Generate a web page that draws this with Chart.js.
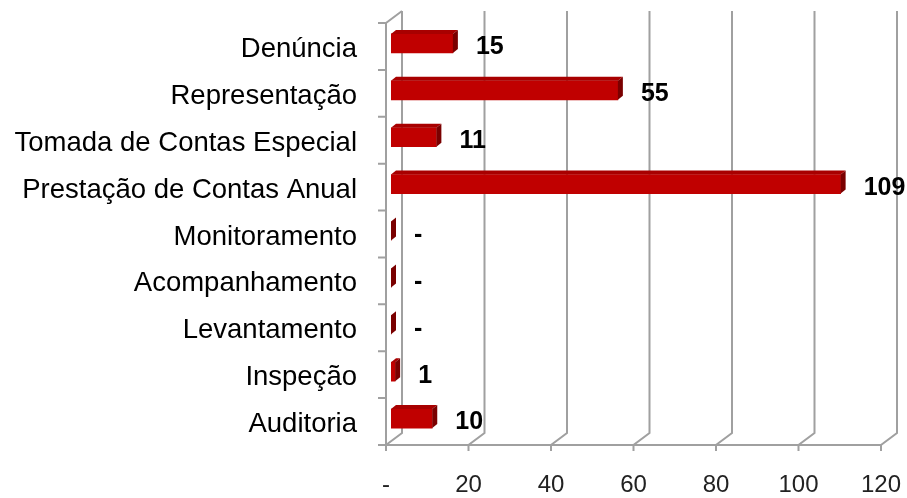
<!DOCTYPE html>
<html>
<head>
<meta charset="utf-8">
<script src="https://cdn.jsdelivr.net/npm/chart.js@4/dist/chart.umd.min.js"></script>
<style>
    body { margin: 0; background: #fff; }
    #wrap { width: 907px; height: 498px; position: relative; }
</style>
</head>
<body>
<div id="wrap"><canvas id="processos"></canvas></div>
<script>
// dados do grafico
var categorias = [
    "Denúncia",
    "Representação",
    "Tomada de Contas Especial",
    "Prestação de Contas Anual",
    "Monitoramento",
    "Acompanhamento",
    "Levantamento",
    "Inspeção",
    "Auditoria"
];
var valores = [15, 55, 11, 109, 0, 0, 0, 1, 10];
var eixoX = { min: 0, max: 120, passo: 20 };

// deslocamento do efeito 3D
var prof = { dx: 16, dy: 12 };
var barra = { dx: 5, dy: -3, lado: 5, topo: 4 };

var grade3d = {
    id: 'grade3d',
    beforeDatasetsDraw: function(chart) {
        var ctx = chart.ctx;
        var area = chart.chartArea;
        var x = chart.scales.x;
        ctx.save();
        ctx.strokeStyle = '#a0a0a0';
        ctx.lineWidth = 2;
        ctx.beginPath();
        x.ticks.forEach(function(t) {
            var fx = x.getPixelForValue(t.value);
            ctx.moveTo(fx + prof.dx, area.top - prof.dy);
            ctx.lineTo(fx + prof.dx, area.bottom - prof.dy);
            ctx.lineTo(fx, area.bottom);
            ctx.lineTo(fx, area.bottom + 6);
        });
        // chao
        ctx.moveTo(area.left, area.bottom);
        ctx.lineTo(area.right, area.bottom);
        // parede esquerda
        ctx.moveTo(area.left, area.bottom);
        ctx.lineTo(area.left, area.top);
        ctx.lineTo(area.left + prof.dx, area.top - prof.dy);
        var n = categorias.length;
        for (var i = 0; i <= n; i++) {
            var y = area.top + i * (area.bottom - area.top) / n;
            ctx.moveTo(area.left - 8, y);
            ctx.lineTo(area.left, y);
        }
        ctx.stroke();
        ctx.restore();
    },
    beforeDatasetDraw: function(chart) {
        chart.ctx.save();
        chart.ctx.translate(barra.dx, barra.dy);
    },
    afterDatasetDraw: function(chart) {
        chart.ctx.restore();
    },
    afterDatasetsDraw: function(chart) {
        var ctx = chart.ctx;
        var meta = chart.getDatasetMeta(0);
        ctx.save();
        meta.data.forEach(function(el, i) {
            var x0 = el.base + barra.dx;
            var x1 = el.x + barra.dx;
            var y0 = el.y - el.height / 2 + barra.dy;
            var y1 = el.y + el.height / 2 + barra.dy;
            // face de cima
            ctx.fillStyle = '#a80000';
            ctx.beginPath();
            ctx.moveTo(x0, y0);
            ctx.lineTo(x0 + barra.lado, y0 - barra.topo);
            ctx.lineTo(x1 + barra.lado, y0 - barra.topo);
            ctx.lineTo(x1, y0);
            ctx.closePath();
            ctx.fill();
            // face lateral
            ctx.fillStyle = '#7a0000';
            ctx.beginPath();
            ctx.moveTo(x1, y0);
            ctx.lineTo(x1 + barra.lado, y0 - barra.topo);
            ctx.lineTo(x1 + barra.lado, y1 - barra.topo);
            ctx.lineTo(x1, y1);
            ctx.closePath();
            ctx.fill();
            // rotulo
            var v = valores[i];
            ctx.fillStyle = '#000';
            ctx.font = 'bold 25px "Liberation Sans", Arial, sans-serif';
            ctx.textAlign = 'left';
            ctx.textBaseline = 'middle';
            ctx.fillText(v === 0 ? '-' : String(v), el.x + 28, el.y + 1);
        });
        ctx.restore();
    }
};

var ctx = document.getElementById('processos');
var grafico = new Chart(ctx, {
    type: 'bar',
    data: {
        labels: categorias,
        datasets: [{
            data: valores,
            backgroundColor: '#c00000',
            borderWidth: 0,
            barThickness: 19
        }]
    },
    options: {
        indexAxis: 'y',
        responsive: true,
        maintainAspectRatio: false,
        animation: false,
        layout: { padding: { top: 23, right: 26, left: 0, bottom: 0 } },
        plugins: {
            legend: { display: false },
            tooltip: { enabled: false }
        },
        scales: {
            x: {
                min: eixoX.min,
                max: eixoX.max,
                grid: { display: false, drawTicks: false },
                border: { display: false },
                afterFit: function(s) {
                    s.height = 53;
                    s.paddingLeft = 0;
                    s.paddingRight = 0;
                },
                ticks: {
                    stepSize: eixoX.passo,
                    padding: 26,
                    color: '#222',
                    font: { family: '"Liberation Sans", Arial, sans-serif', size: 24 },
                    callback: function(v) { return v === 0 ? '-' : v; }
                }
            },
            y: {
                grid: { display: false, drawTicks: false },
                border: { display: false },
                afterFit: function(s) {
                    s.width = 386;
                    s.paddingTop = 0;
                    s.paddingBottom = 0;
                },
                ticks: {
                    padding: 29,
                    labelOffset: 3,
                    color: '#000',
                    font: { family: '"Liberation Sans", Arial, sans-serif', size: 27.5 }
                }
            }
        }
    },
    plugins: [grade3d]
});
</script>
</body>
</html>
